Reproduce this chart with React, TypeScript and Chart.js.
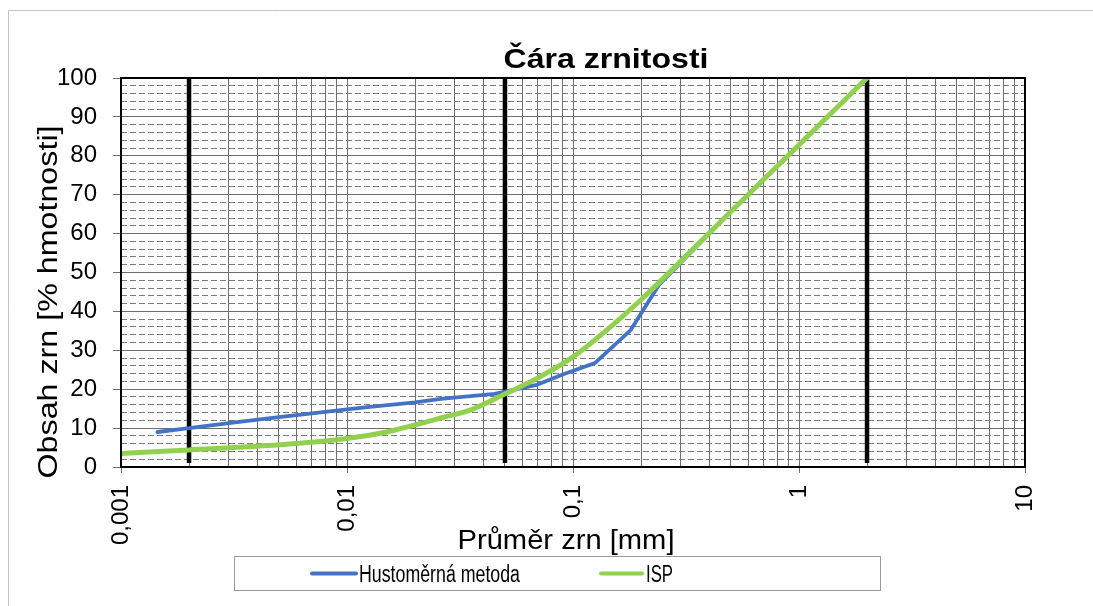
import { useEffect, useRef } from 'react';
import { Chart, registerables } from 'chart.js';

Chart.register(...registerables);

// ---- data ----
const chartTitle = 'Čára zrnitosti';
const xTitle = 'Průměr zrn [mm]';
const yTitle = 'Obsah zrn [% hmotnosti]';

const hydroLabel = 'Hustoměrná metoda';
const hydroDiam = [0.00145, 0.002, 0.003, 0.005, 0.008, 0.012, 0.02, 0.026, 0.045, 0.069, 0.09, 0.125, 0.18, 0.24, 0.5, 1, 2];
const hydroPass = [9.0, 10.0, 11.3, 12.8, 14.2, 15.3, 16.6, 17.5, 18.8, 21.1, 23.8, 26.7, 35.2, 46.8, 65.7, 82.8, 100];

const ispLabel = 'ISP';
const ispDiam = [0.001, 0.002, 0.005, 0.01, 0.015, 0.02, 0.026, 0.036, 0.051, 0.071, 0.1, 0.141, 0.2, 0.5, 1, 2];
const ispPass = [3.5, 4.4, 5.7, 7.3, 9.0, 10.8, 12.6, 14.9, 19.0, 23.1, 28.3, 35.2, 43.0, 65.7, 82.8, 100];

const limitDiam = [0.002, 0.05, 2];
const limitRange = [1, 100];

const xDecades = [0.001, 0.01, 0.1, 1, 10];
const xDecadeLabels = ['0,001', '0,01', '0,1', '1', '10'];
const xMinorMultipliers = [2, 3, 4, 5, 6, 7, 8, 9];

const FONT = '"Liberation Sans", Arial, sans-serif';

function fitText(ctx: CanvasRenderingContext2D, text: string, x: number, y: number, font: string, width: number, rotate = 0, align: CanvasTextAlign = 'center') {
  ctx.save();
  ctx.font = font;
  const w = ctx.measureText(text).width;
  ctx.translate(x, y);
  if (rotate) ctx.rotate(rotate);
  ctx.scale(width / w, 1);
  ctx.textAlign = align;
  ctx.textBaseline = 'alphabetic';
  ctx.fillStyle = '#000';
  ctx.fillText(text, 0, 0);
  ctx.restore();
}

const decor = {
  id: 'decor',
  afterDraw(chart: any) {
    const { ctx, chartArea: a } = chart;
    ctx.save();
    // plot border
    ctx.strokeStyle = '#000';
    ctx.lineWidth = 2;
    ctx.strokeRect(a.left, a.top, a.right - a.left, a.bottom - a.top);
    // outer frame
    ctx.strokeStyle = '#c4c4c4';
    ctx.lineWidth = 1;
    ctx.beginPath();
    ctx.moveTo(8.5, 606);
    ctx.lineTo(8.5, 10.5);
    ctx.lineTo(1093, 10.5);
    ctx.stroke();
    ctx.restore();

    // titles
    fitText(ctx, chartTitle, 606, 68, `bold 28px ${FONT}`, 205);
    fitText(ctx, xTitle, 566, 549, `27px ${FONT}`, 217);
    fitText(ctx, yTitle, 57, 302, `27px ${FONT}`, 353, -Math.PI / 2);

    // legend
    ctx.save();
    ctx.strokeStyle = '#9a9a9a';
    ctx.lineWidth = 1;
    ctx.strokeRect(234.5, 556.5, 646, 34);
    const ds = chart.data.datasets;
    const items = [
      { d: ds[1], x0: 312, x1: 356, tx: 359, tw: 161 },
      { d: ds[0], x0: 601, x1: 642, tx: 646, tw: 27 },
    ];
    for (const it of items) {
      ctx.strokeStyle = it.d.borderColor;
      ctx.lineWidth = 4;
      ctx.lineCap = 'round';
      ctx.beginPath();
      ctx.moveTo(it.x0, 573.5);
      ctx.lineTo(it.x1, 573.5);
      ctx.stroke();
      fitText(ctx, it.d.label, it.tx, 582, `23px ${FONT}`, it.tw, 0, 'left');
    }
    ctx.restore();
  },
};

export default function App() {
  const ref = useRef<HTMLCanvasElement>(null);
  useEffect(() => {
    if (!ref.current) return;
    const xTicks: number[] = [];
    xDecades.forEach((d, i) => {
      xTicks.push(d);
      if (i < xDecades.length - 1) xMinorMultipliers.forEach((m) => xTicks.push(m * d));
    });
    const isDecade = (v: number) => xDecades.indexOf(v) >= 0;

    const limitSets = limitDiam.map((d) => ({
      label: '',
      data: limitRange.map((y) => ({ x: d, y })),
      borderColor: '#000',
      backgroundColor: '#000',
      borderWidth: 4.5,
      pointRadius: 0,
      showLine: true,
      borderCapStyle: 'butt' as const,
    }));

    const chart = new Chart(ref.current, {
      type: 'scatter',
      data: {
        datasets: [
          {
            label: ispLabel,
            data: ispDiam.map((x, i) => ({ x, y: ispPass[i] })),
            borderColor: '#92D050',
            backgroundColor: '#92D050',
            borderWidth: 5,
            pointRadius: 0,
            showLine: true,
            cubicInterpolationMode: 'monotone',
            borderCapStyle: 'round',
          },
          {
            label: hydroLabel,
            data: hydroDiam.map((x, i) => ({ x, y: hydroPass[i] })),
            borderColor: '#4472C4',
            backgroundColor: '#4472C4',
            borderWidth: 3.8,
            pointRadius: 0,
            showLine: true,
            tension: 0,
            borderCapStyle: 'round',
          },
          ...limitSets,
        ],
      },
      options: {
        animation: false,
        responsive: true,
        maintainAspectRatio: false,
        layout: { padding: { top: 78, right: 68, left: 0, bottom: 0 } },
        plugins: {
          legend: { display: false },
          title: { display: false },
          tooltip: { enabled: false },
        },
        scales: {
          x: {
            type: 'logarithmic',
            min: 0.001,
            max: 10,
            afterBuildTicks: (s: any) => {
              s.ticks = xTicks.map((v) => ({ value: v, major: isDecade(v) }));
            },
            afterFit: (s: any) => {
              s.height = 139;
            },
            ticks: {
              autoSkip: false,
              minRotation: 90,
              maxRotation: 90,
              padding: 12,
              color: '#000',
              font: { family: FONT, size: 24 },
              callback: (v: any) => {
                const i = xDecades.indexOf(Number(v));
                return i >= 0 ? xDecadeLabels[i] : '';
              },
            },
            grid: {
              color: '#6e6e6e',
              lineWidth: 1,
              tickLength: 6,
              tickColor: (c: any) => (c.tick && isDecade(c.tick.value) ? '#6e6e6e' : 'rgba(0,0,0,0)'),
            },
            border: { display: false },
          },
          y: {
            type: 'linear',
            position: 'left',
            min: 0,
            max: 100,
            afterFit: (s: any) => {
              s.width = 121;
            },
            ticks: {
              stepSize: 10,
              padding: 16,
              color: '#000',
              font: { family: FONT, size: 24 },
            },
            grid: { color: '#6e6e6e', lineWidth: 1, tickLength: 8 },
            border: { display: false },
          },
          y2: {
            type: 'linear',
            position: 'left',
            min: 0,
            max: 100,
            afterFit: (s: any) => {
              s.width = 0;
            },
            ticks: { stepSize: 2, display: false },
            grid: {
              drawTicks: false,
              color: (c: any) => (c.tick && Math.round(c.tick.value) % 10 === 0 ? 'rgba(0,0,0,0)' : '#7a7a7a'),
              lineWidth: 1,
            },
            border: { display: false, dash: [6, 3] },
          },
        },
      },
      plugins: [decor],
    } as any);
    return () => chart.destroy();
  }, []);

  return (
    <div style={{ position: 'absolute', left: 0, top: 0, width: 1093, height: 606, background: '#fff' }}>
      <canvas ref={ref} />
    </div>
  );
}
